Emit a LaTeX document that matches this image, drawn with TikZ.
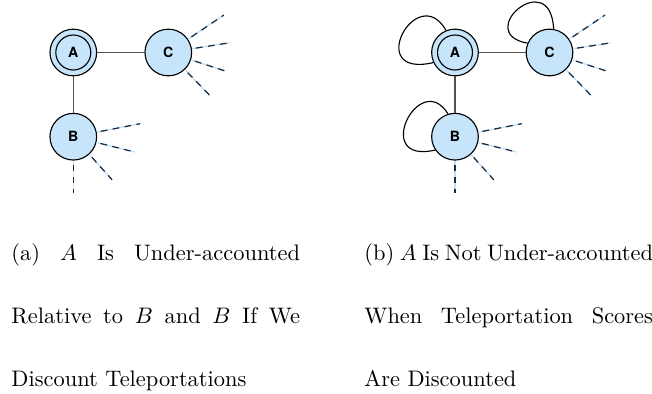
\documentclass[tikz,border=0pt]{standalone}
\usepackage{fontspec}
\newfontfamily\heros{TeX Gyre Heros}
\usetikzlibrary{calc}
\definecolor{nodeblue}{RGB}{198,228,250}
\definecolor{rayblue}{RGB}{188,224,246}
\definecolor{raydark}{RGB}{28,42,66}

\begin{document}
\begin{tikzpicture}[x=0.4456pt, y=0.4456pt,
    vertex/.style={circle, draw, line width=0.5pt, fill=nodeblue, minimum size=20.8pt, inner sep=0pt, font=\heros\fontsize{6.3}{7}\selectfont\bfseries},
    ring/.style={circle, draw, line width=0.5pt, minimum size=15.6pt, inner sep=0pt, font=\heros\fontsize{6.3}{7}\selectfont\bfseries},
    link/.style={draw=black!68, line width=0.7pt},
    ray/.style={draw=rayblue, line width=0.55pt, postaction={draw=raydark, dash pattern=on 3pt off 2.4pt, dash phase=3.6pt}},
    selfloop/.style={line width=0.5pt},
    caption/.style={inner sep=0pt, anchor=base west}
]
\useasboundingbox (0,0) rectangle (652,-394);

% (a) without teleportation
\node[vertex] (Aa) at (73.3,-52.5) {};
\node[ring] (Aain) at (Aa) {A};
\node[vertex] (Ca) at (168.3,-52.5) {C};
\node[vertex] (Ba) at (73.3,-136.7) {B};

\draw[link] (Aa) -- (Ca);
\draw[link] (Aa) -- (Ba);

\foreach \ang/\len [count=\i] in {34/67, 9/62, -18/59, -46/60} {
    \coordinate (ca\i) at ($(Ca)+(\ang:\len)$);
    \draw[ray] (Ca.\ang) -- (ca\i);
}
\foreach \ang/\len [count=\i] in {11/68, -14/63.5, -48/58, -90/56.6} {
    \coordinate (ba\i) at ($(Ba)+(\ang:\len)$);
    \draw[ray] (Ba.\ang) -- (ba\i);
}

% (b) with teleportation loops
\node[vertex] (Ab) at (455,-52.5) {};
\node[ring] (Abin) at (Ab) {A};
\node[vertex] (Cb) at (549.5,-52.5) {C};
\node[vertex] (Bb) at (455,-136.7) {B};

\draw[link] (Ab) -- (Cb);
\draw[link] (Ab) -- (Bb);

\foreach \ang/\len [count=\i] in {34/67, 9/62, -18/59, -46/60} {
    \coordinate (cb\i) at ($(Cb)+(\ang:\len)$);
    \draw[ray] (Cb.\ang) -- (cb\i);
}
\foreach \ang/\len [count=\i] in {11/68, -14/63.5, -48/58, -90/56.6} {
    \coordinate (bb\i) at ($(Bb)+(\ang:\len)$);
    \draw[ray] (Bb.\ang) -- (bb\i);
}

\draw[selfloop] (Ab.112) .. controls +(120:58) and +(193:72) .. (Ab.205);
\draw[selfloop] (Bb.107) .. controls +(122:54) and +(193:66) .. (Bb.214);
\draw[selfloop] (Cb.80) .. controls +(93:64) and +(170:56) .. (Cb.157);

% captions
\node[caption] (capa) at (11,-261) {\parbox[t]{128.6pt}{\baselineskip=28pt
    (a) $A$ Is Under-accounted\linebreak
    Relative to $B$ and $B$ If We\linebreak
    Discount Teleportations}};
\node[caption] (capb) at (364,-261) {\parbox[t]{128.6pt}{\baselineskip=28pt
    (b) $A$ Is Not Under-accounted\linebreak
    When Teleportation Scores\linebreak
    Are Discounted}};

\end{tikzpicture}
\end{document}
